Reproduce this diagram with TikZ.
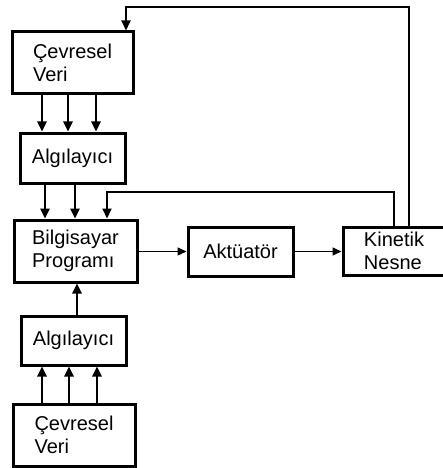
\documentclass[tikz,border=0pt]{standalone}
\usepackage{fontspec}
\setmainfont{Liberation Sans}
\usetikzlibrary{arrows.meta}
\begin{document}
\begin{tikzpicture}[x=1pt,y=-1pt,
  box/.style={draw=black,line width=3pt,rectangle,inner sep=0pt,
    align=left,font=\fontsize{20}{23}\selectfont},
  arr/.style={line width=2.4pt,-{Triangle[length=10pt,width=9pt]}},
  thinarr/.style={line width=1.5pt,-{Triangle[length=9pt,width=8pt]}},
  loop/.style={line width=2pt,-{Triangle[length=10pt,width=9pt]}}]
\useasboundingbox (0,0) rectangle (443,468);
\fill[white] (0,0) rectangle (443,468);

% boxes
\node[box,minimum width=121pt,minimum height=62pt] (cv1) at (72.5,63) {Çevresel\\Veri};
\node[box,minimum width=105pt,minimum height=50pt] (al1) at (72.5,158) {Algılayıcı};
\node[box,minimum width=123pt,minimum height=62pt] (bp) at (75.5,251) {Bilgisayar\\Programı};
\node[box,minimum width=105pt,minimum height=49pt] (ak) at (240.5,251.5) {Aktüatör};
\node[box,minimum width=102pt,minimum height=48pt] (kn) at (394,251) {Kinetik\\Nesne};
\node[box,minimum width=105pt,minimum height=49pt] (al2) at (73.5,340.5) {Algılayıcı};
\node[box,minimum width=122pt,minimum height=62pt] (cv2) at (74,435) {Çevresel\\Veri};

% upper sensing chain
\foreach \x in {42,68,96}
  \draw[arr] (cv1.south -| \x,0) -- (al1.north -| \x,0);
\foreach \x in {45,75}
  \draw[arr] (al1.south -| \x,0) -- (bp.north -| \x,0);

% lower sensing chain
\foreach \x in {42,69,97}
  \draw[arr] (cv2.north -| \x,0) -- (al2.south -| \x,0);
\draw[arr] (al2.north -| 77,0) -- (bp.south -| 77,0);

% actuation path
\coordinate (act) at (0,251.5);
\draw[thinarr] (bp.east |- act) -- (ak.west |- act);
\draw[thinarr] (ak.east |- act) -- (kn.west |- act);

% feedback loops
\coordinate (f1) at (394,192);
\coordinate (f2) at (409,7);
\draw[loop] (kn.north -| f1) -- (f1) -- (107,192) -- (bp.north -| 107,0);
\draw[loop] (kn.north -| f2) -- (f2) -- (126,7) -- (cv1.north -| 126,0);
\end{tikzpicture}
\end{document}
